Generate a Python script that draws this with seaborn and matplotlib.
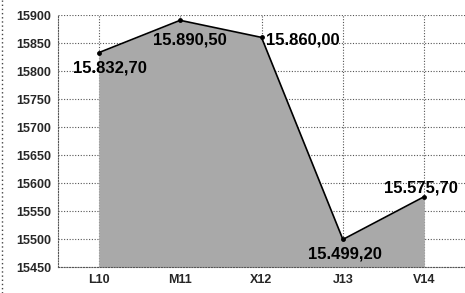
import matplotlib
matplotlib.use('Agg')
import matplotlib.pyplot as plt
import pandas as pd
import seaborn as sns
from matplotlib.lines import Line2D

# ── Data ──────────────────────────────────────
categories = ['L10', 'M11', 'X12', 'J13', 'V14']
values = [15832.70, 15890.50, 15860.00, 15499.20, 15575.70]
value_labels = ['15.832,70', '15.890,50', '15.860,00', '15.499,20', '15.575,70']
y_ticks = [15450, 15500, 15550, 15600, 15650, 15700, 15750, 15800, 15850, 15900]

# label offsets (pixels) relative to each point
label_offsets = [(11, -15), (10, -20), (41, -3), (2, -15), (-3, 9)]

sns.set_style('white')
plt.rcParams['font.family'] = ['Liberation Sans', 'DejaVu Sans']

df = pd.DataFrame({'cat': categories, 'val': values})

fig = plt.figure(figsize=(4.65, 2.93), dpi=100)
ax = fig.add_axes([58 / 465, 1 - 267 / 293, 1 - 58 / 465, (267 - 15) / 293])

x = list(range(len(categories)))
ax.fill_between(x, values, 15450, color='#a9a9a9', lw=0, zorder=1)
sns.lineplot(data=df, x='cat', y='val', sort=False, color='black',
             linewidth=1.2, marker='o', markersize=3.5, markeredgewidth=0,
             ax=ax, zorder=3)

for xi, v, lab, (dx, dy) in zip(x, values, value_labels, label_offsets):
    ax.annotate(lab, (xi, v), xytext=(dx, dy), textcoords='offset pixels',
                ha='center', va='center', fontsize=12, fontweight='bold',
                color='black', zorder=4)

ax.set_xlim(-0.5, len(categories) - 0.5)
ax.set_ylim(15450, 15900)
ax.set_yticks(y_ticks)
ax.set_yticklabels([str(t) for t in y_ticks])
ax.set_xticks(x)
ax.set_xticklabels(categories)
ax.set_xlabel('')
ax.set_ylabel('')

ax.grid(True, color='#555555', linestyle=(0, (1, 1.5)), linewidth=0.8, zorder=0)
ax.set_axisbelow(True)
for side in ['top', 'right']:
    ax.spines[side].set_visible(False)
for side in ['left', 'bottom']:
    ax.spines[side].set_linestyle((0, (1, 1.5)))
    ax.spines[side].set_color('#555555')
    ax.spines[side].set_linewidth(0.8)

ax.tick_params(axis='both', length=0, labelsize=9)
ax.tick_params(axis='y', pad=5)
ax.tick_params(axis='x', pad=5)
for t in ax.get_xticklabels() + ax.get_yticklabels():
    t.set_fontweight('bold')

# scanned border on the far left
fig.add_artist(Line2D([2 / 465, 2 / 465], [0, 1], transform=fig.transFigure,
                      color='#444444', linestyle=(0, (1, 2)), linewidth=1))

fig.savefig('out.png', dpi=100)
